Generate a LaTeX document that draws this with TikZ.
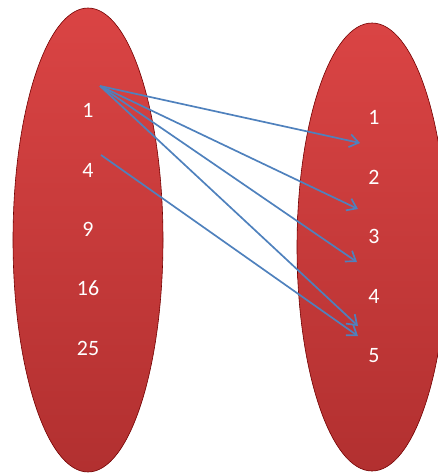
\documentclass[tikz,border=0pt]{standalone}
\usepackage{fontspec}
\setmainfont{Carlito}
\usetikzlibrary{shapes.geometric,arrows.meta}

\tikzset{every node/.style={text=white, font=\fontsize{22}{26}\selectfont}}

\begin{document}
\begin{tikzpicture}[x=1bp, y=-1bp,
    set/.style={ellipse, draw=red!45!black, line width=0.6pt, top color=setTop, bottom color=setBottom, minimum width=150bp, inner sep=0pt},
    map/.style={draw=mapBlue, line width=1.7pt, -{Straight Barb[length=9pt,width=13pt,line width=1.7pt]}}]
			\definecolor{setTop}{RGB}{218,68,68}
			\definecolor{setBottom}{RGB}{178,48,48}
			\definecolor{mapBlue}{RGB}{79,129,189}
			\clip (0,0) rectangle (438,475);
			
			% Define the two sets
			\node[set, minimum height=464bp] (L) at (88,240) {};
			\node[set, minimum height=448bp] (R) at (372,247) {};
			
			% Elements of the left set
			\node (a1) at (88,110) {1};
			\node (a4) at (88,170) {4};
			\node (a9) at (88,229) {9};
			\node (a16) at (88,288) {16};
			\node (a25) at (88,348) {25};
			
			% Elements of the right set
			\node (b1) at (374,117) {1};
			\node (b2) at (374,177) {2};
			\node (b3) at (374,236) {3};
			\node (b4) at (374,296) {4};
			\node (b5) at (374,356) {5};
			
			% Ends of the arrows
			\coordinate (s1) at (100,86);
			\coordinate (s4) at (101,155);
			\coordinate (t1) at (360,143);
			\coordinate (t2) at (358,209);
			\coordinate (t3) at (357,262);
			\coordinate (t5) at (358,326);
			\coordinate (t5b) at (358,336);
			
			% Arrows from 1
			\draw[map] (s1) -- (t1);
			\draw[map] (s1) -- (t2);
			\draw[map] (s1) -- (t3);
			\draw[map] (s1) -- (t5);
			
			% Arrow from 4
			\draw[map] (s4) -- (t5b);
			
		\end{tikzpicture}
\end{document}
